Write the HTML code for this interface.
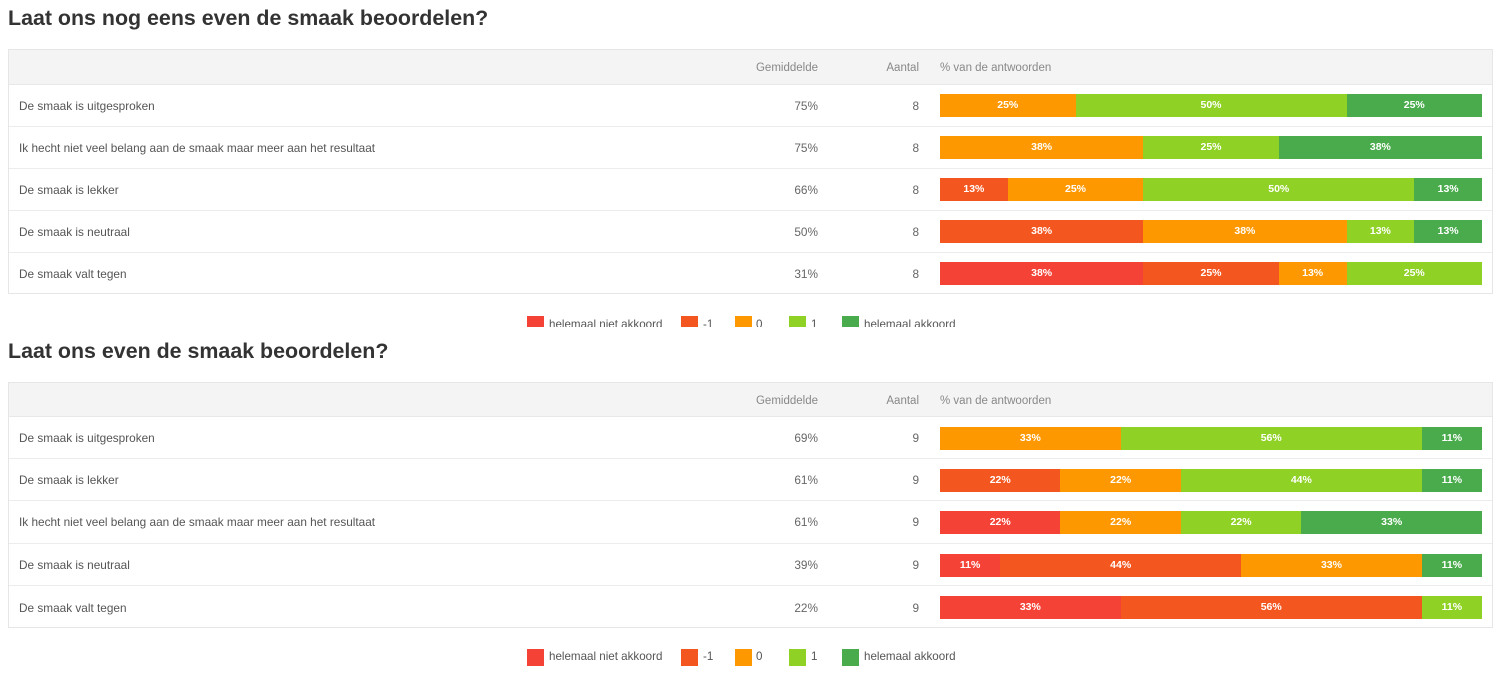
<!DOCTYPE html>
<html>
<head>
<meta charset="utf-8">
<style>
  html,body{margin:0;padding:0;background:#fff;}
  body{width:1500px;height:678px;position:relative;overflow:hidden;font-family:"Liberation Sans",Arial,sans-serif;}
  .title{position:absolute;left:8px;font-size:21.4px;font-weight:bold;color:#333;white-space:nowrap;line-height:24px;}
  .tbl{position:absolute;left:8px;width:1483px;border:1px solid #e6e6e6;background:#fff;box-sizing:content-box;}
  .hdr{position:absolute;left:0;right:0;top:0;background:#f4f4f4;border-bottom:1px solid #e8e8e8;}
  .hdr span{position:absolute;font-size:11.5px;color:#888;line-height:14px;white-space:nowrap;}
  .row{position:absolute;left:0;right:0;border-bottom:1px solid #ececec;}
  .row:last-child{border-bottom:none;}
  .lab{position:absolute;left:10px;font-size:11.8px;color:#555;white-space:nowrap;line-height:14px;}
  .val{position:absolute;right:674px;font-size:11.8px;color:#666;line-height:14px;text-align:right;}
  .cnt{position:absolute;right:573px;font-size:11.8px;color:#666;line-height:14px;text-align:right;}
  .bar{position:absolute;left:931px;width:542px;height:23px;display:flex;}
  .bar div{height:100%;color:#fff;font-weight:bold;font-size:10.5px;line-height:23px;text-align:center;overflow:hidden;}
  .c0{background:#f44336;}
  .c1{background:#f4561f;}
  .c2{background:#fd9800;}
  .c3{background:#8fd124;}
  .c4{background:#49ab4c;}
  .leg{position:absolute;left:0;width:1500px;overflow:hidden;}
  .sq{position:absolute;width:17px;height:17px;}
  .lt{position:absolute;font-size:11.6px;color:#555;white-space:nowrap;line-height:14px;}
</style>
</head>
<body>

<div class="title" style="top:6px;">Laat ons nog eens even de smaak beoordelen?</div>

<div class="tbl" style="top:49px;height:243px;">
  <div class="hdr" style="height:34px;">
    <span style="right:674px;top:11px;">Gemiddelde</span>
    <span style="right:573px;top:11px;">Aantal</span>
    <span style="left:931px;top:11px;">% van de antwoorden</span>
  </div>
  <div class="row" style="top:35px;height:41px;">
    <div class="lab" style="top:14px;">De smaak is uitgesproken</div>
    <div class="val" style="top:14px;">75%</div>
    <div class="cnt" style="top:14px;">8</div>
    <div class="bar" style="top:9px;"><div class="c2" style="flex:2">25%</div><div class="c3" style="flex:4">50%</div><div class="c4" style="flex:2">25%</div></div>
  </div>
  <div class="row" style="top:77px;height:41px;">
    <div class="lab" style="top:14px;">Ik hecht niet veel belang aan de smaak maar meer aan het resultaat</div>
    <div class="val" style="top:14px;">75%</div>
    <div class="cnt" style="top:14px;">8</div>
    <div class="bar" style="top:9px;"><div class="c2" style="flex:3">38%</div><div class="c3" style="flex:2">25%</div><div class="c4" style="flex:3">38%</div></div>
  </div>
  <div class="row" style="top:119px;height:41px;">
    <div class="lab" style="top:14px;">De smaak is lekker</div>
    <div class="val" style="top:14px;">66%</div>
    <div class="cnt" style="top:14px;">8</div>
    <div class="bar" style="top:9px;"><div class="c1" style="flex:1">13%</div><div class="c2" style="flex:2">25%</div><div class="c3" style="flex:4">50%</div><div class="c4" style="flex:1">13%</div></div>
  </div>
  <div class="row" style="top:161px;height:41px;">
    <div class="lab" style="top:14px;">De smaak is neutraal</div>
    <div class="val" style="top:14px;">50%</div>
    <div class="cnt" style="top:14px;">8</div>
    <div class="bar" style="top:9px;"><div class="c1" style="flex:3">38%</div><div class="c2" style="flex:3">38%</div><div class="c3" style="flex:1">13%</div><div class="c4" style="flex:1">13%</div></div>
  </div>
  <div class="row" style="top:203px;height:40px;">
    <div class="lab" style="top:14px;">De smaak valt tegen</div>
    <div class="val" style="top:14px;">31%</div>
    <div class="cnt" style="top:14px;">8</div>
    <div class="bar" style="top:9px;"><div class="c0" style="flex:3">38%</div><div class="c1" style="flex:2">25%</div><div class="c2" style="flex:1">13%</div><div class="c3" style="flex:2">25%</div></div>
  </div>
</div>

<div class="leg" style="top:305px;height:22px;">
  <div class="sq c0" style="left:527px;top:11px;"></div><div class="lt" style="left:549px;top:13px;">helemaal niet akkoord</div>
  <div class="sq c1" style="left:681px;top:11px;"></div><div class="lt" style="left:703px;top:13px;">-1</div>
  <div class="sq c2" style="left:735px;top:11px;"></div><div class="lt" style="left:756px;top:13px;">0</div>
  <div class="sq c3" style="left:789px;top:11px;"></div><div class="lt" style="left:811px;top:13px;">1</div>
  <div class="sq c4" style="left:842px;top:11px;"></div><div class="lt" style="left:864px;top:13px;">helemaal akkoord</div>
</div>

<div class="title" style="top:339px;">Laat ons even de smaak beoordelen?</div>

<div class="tbl" style="top:382px;height:244px;">
  <div class="hdr" style="height:33px;">
    <span style="right:674px;top:11px;">Gemiddelde</span>
    <span style="right:573px;top:11px;">Aantal</span>
    <span style="left:931px;top:11px;">% van de antwoorden</span>
  </div>
  <div class="row" style="top:34px;height:41px;">
    <div class="lab" style="top:14px;">De smaak is uitgesproken</div>
    <div class="val" style="top:14px;">69%</div>
    <div class="cnt" style="top:14px;">9</div>
    <div class="bar" style="top:10px;"><div class="c2" style="flex:3">33%</div><div class="c3" style="flex:5">56%</div><div class="c4" style="flex:1">11%</div></div>
  </div>
  <div class="row" style="top:76px;height:41px;">
    <div class="lab" style="top:14px;">De smaak is lekker</div>
    <div class="val" style="top:14px;">61%</div>
    <div class="cnt" style="top:14px;">9</div>
    <div class="bar" style="top:10px;"><div class="c1" style="flex:2">22%</div><div class="c2" style="flex:2">22%</div><div class="c3" style="flex:4">44%</div><div class="c4" style="flex:1">11%</div></div>
  </div>
  <div class="row" style="top:118px;height:42px;">
    <div class="lab" style="top:14px;">Ik hecht niet veel belang aan de smaak maar meer aan het resultaat</div>
    <div class="val" style="top:14px;">61%</div>
    <div class="cnt" style="top:14px;">9</div>
    <div class="bar" style="top:10px;"><div class="c0" style="flex:2">22%</div><div class="c2" style="flex:2">22%</div><div class="c3" style="flex:2">22%</div><div class="c4" style="flex:3">33%</div></div>
  </div>
  <div class="row" style="top:161px;height:41px;">
    <div class="lab" style="top:14px;">De smaak is neutraal</div>
    <div class="val" style="top:14px;">39%</div>
    <div class="cnt" style="top:14px;">9</div>
    <div class="bar" style="top:10px;"><div class="c0" style="flex:1">11%</div><div class="c1" style="flex:4">44%</div><div class="c2" style="flex:3">33%</div><div class="c4" style="flex:1">11%</div></div>
  </div>
  <div class="row" style="top:203px;height:41px;">
    <div class="lab" style="top:15px;">De smaak valt tegen</div>
    <div class="val" style="top:15px;">22%</div>
    <div class="cnt" style="top:15px;">9</div>
    <div class="bar" style="top:10px;"><div class="c0" style="flex:3">33%</div><div class="c1" style="flex:5">56%</div><div class="c3" style="flex:1">11%</div></div>
  </div>
</div>

<div class="leg" style="top:640px;height:38px;">
  <div class="sq c0" style="left:527px;top:9px;"></div><div class="lt" style="left:549px;top:10px;">helemaal niet akkoord</div>
  <div class="sq c1" style="left:681px;top:9px;"></div><div class="lt" style="left:703px;top:10px;">-1</div>
  <div class="sq c2" style="left:735px;top:9px;"></div><div class="lt" style="left:756px;top:10px;">0</div>
  <div class="sq c3" style="left:789px;top:9px;"></div><div class="lt" style="left:811px;top:10px;">1</div>
  <div class="sq c4" style="left:842px;top:9px;"></div><div class="lt" style="left:864px;top:10px;">helemaal akkoord</div>
</div>

</body>
</html>
